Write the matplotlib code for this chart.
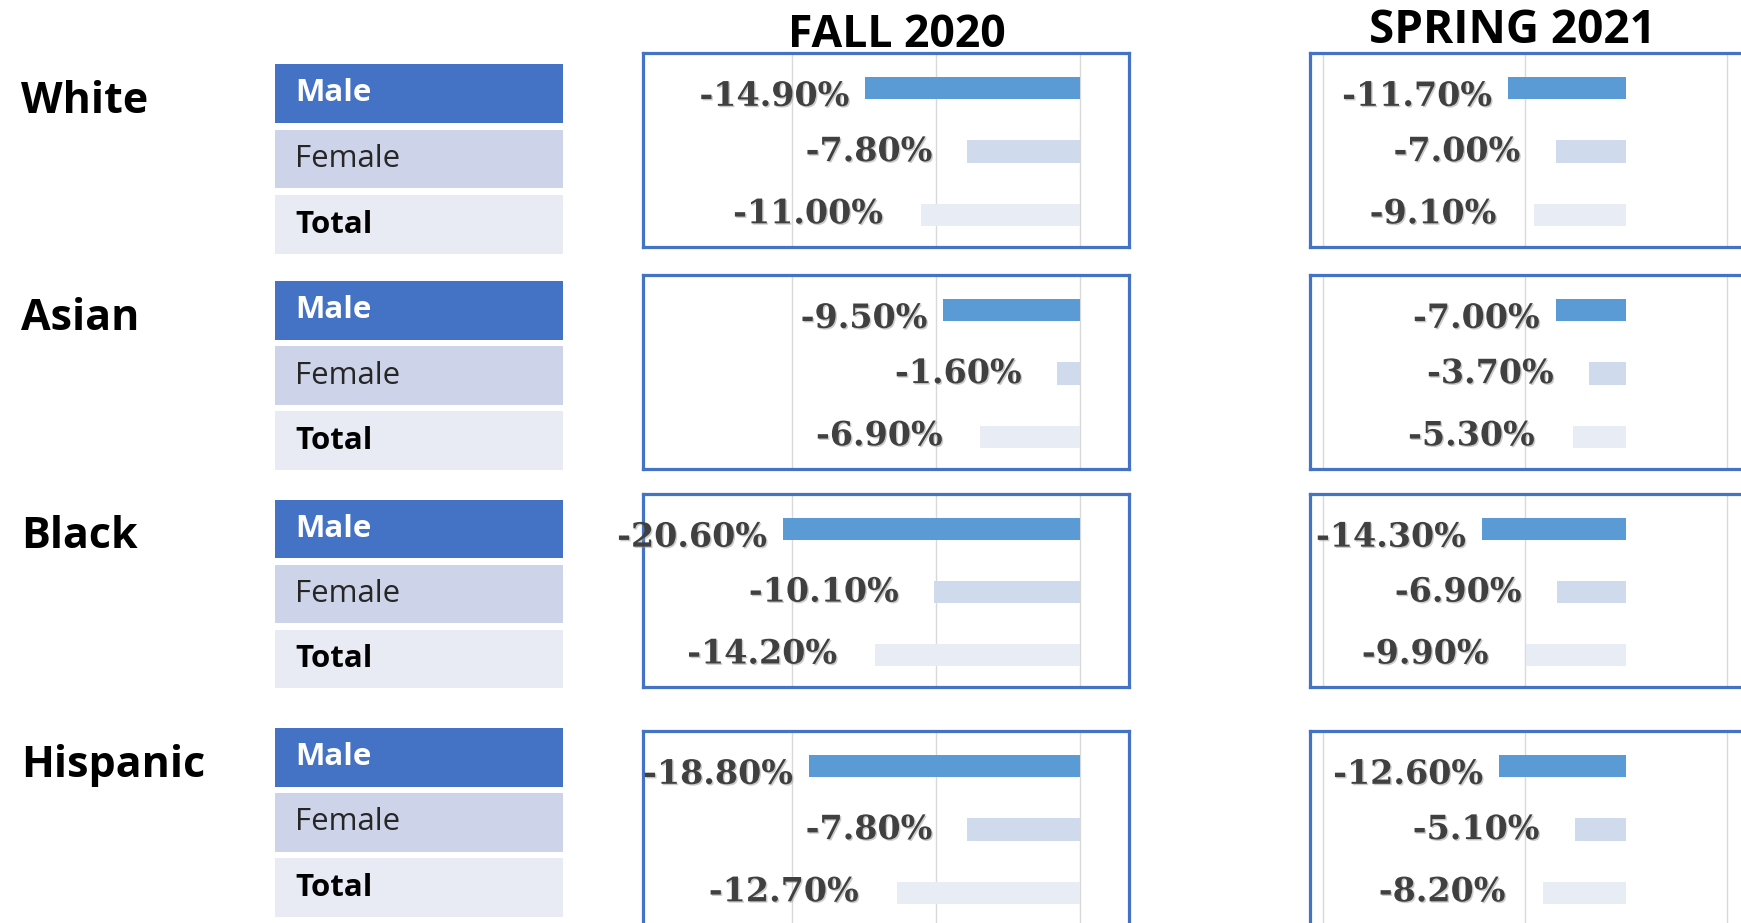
import matplotlib
matplotlib.use('Agg')
import matplotlib.pyplot as plt
import matplotlib.patheffects as pe

# values (percent change)
groups = ['White', 'Asian', 'Black', 'Hispanic']
rows = ['Male', 'Female', 'Total']

fall_male = [-14.9, -9.5, -20.6, -18.8]
fall_female = [-7.8, -1.6, -10.1, -7.8]
fall_total = [-11.0, -6.9, -14.2, -12.7]

spring_male = [-11.7, -7.0, -14.3, -12.6]
spring_female = [-7.0, -3.7, -6.9, -5.1]
spring_total = [-9.1, -5.3, -9.9, -8.2]

W, H = 1741, 923

def rect(x0, y0, x1, y1):
    # pixel box (top-left origin) -> figure fraction rect
    return [x0 / W, 1 - y1 / H, (x1 - x0) / W, (y1 - y0) / H]

cell_colors = ['#4472C4', '#CDD3E9', '#E8EAF4']
cell_text = [('white', 'bold'), ('#262626', 'normal'), ('black', 'bold')]
bar_colors = ['#5B9BD5', '#CFDAEC', '#E8ECF5']
label_offsets = [(-11, -6), (-25, 0), (-27, 1)]

table_y = [(64, 254), (281, 470), (500, 688), (728, 917)]
panel_y = [(53, 247), (275, 469), (494, 687), (731, 925)]

fig = plt.figure(figsize=(W / 100, H / 100), dpi=100)

# left tables
for g, (t, b) in zip(groups, table_y):
    ax = fig.add_axes(rect(275, t, 563, b))
    ax.barh(range(3), [1, 1, 1], height=0.9, color=cell_colors)
    ax.set_xlim(0, 1)
    ax.set_ylim(2.45, -0.45)
    ax.axis('off')
    for i, r in enumerate(rows):
        ax.text(0.07, i, r, va='center', ha='left', fontsize=22.5,
                fontfamily='Open Sans', color=cell_text[i][0],
                fontweight=cell_text[i][1])
    ax.annotate(g, xy=(21 / W, 0.12), xycoords=('figure fraction', 'data'),
                va='center', ha='left', fontsize=31, fontweight='bold',
                fontfamily='Open Sans', color='black', annotation_clip=False)


def panel(box, vals, xlim, ticks):
    ax = fig.add_axes(rect(*box))
    ax.barh(range(3), vals, height=0.35, color=bar_colors, zorder=2)
    ax.set_xlim(*xlim)
    ax.set_ylim(2.5, -0.55)
    ax.set_xticks(ticks)
    ax.set_yticks([])
    ax.tick_params(length=0, labelbottom=False)
    ax.grid(axis='x', color='#D9D9D9', lw=1, zorder=0)
    for s in ax.spines.values():
        s.set_color('#4472C4')
        s.set_linewidth(2.3)
    for i, v in enumerate(vals):
        ax.annotate(f'{v:.2f}%', xy=(v, i), xytext=label_offsets[i],
                    textcoords='offset points', ha='right', va='center',
                    fontfamily='DejaVu Serif', fontweight='bold', fontsize=24,
                    color='#404040', zorder=3,
                    path_effects=[pe.withSimplePatchShadow(offset=(1, -1),
                                  shadow_rgbFace='#999999', alpha=0.5)])
    return ax


for k in range(4):
    t, b = panel_y[k]
    panel((643, t, 1129, b), [fall_male[k], fall_female[k], fall_total[k]],
          (-30.3, 3.4), [-20, -10, 0])
    panel((1310, t, 1800, b), [spring_male[k], spring_female[k], spring_total[k]],
          (-31.3, 17.2), [-30, -10, 10])

fig.text(897 / W, 1 - 47 / H, 'FALL 2020', ha='center', va='baseline',
         fontfamily='Open Sans', fontweight='bold', fontsize=32)
fig.text(1512 / W, 1 - 43 / H, 'SPRING 2021', ha='center', va='baseline',
         fontfamily='Open Sans', fontweight='bold', fontsize=33)

plt.savefig('out.png', dpi=100)
